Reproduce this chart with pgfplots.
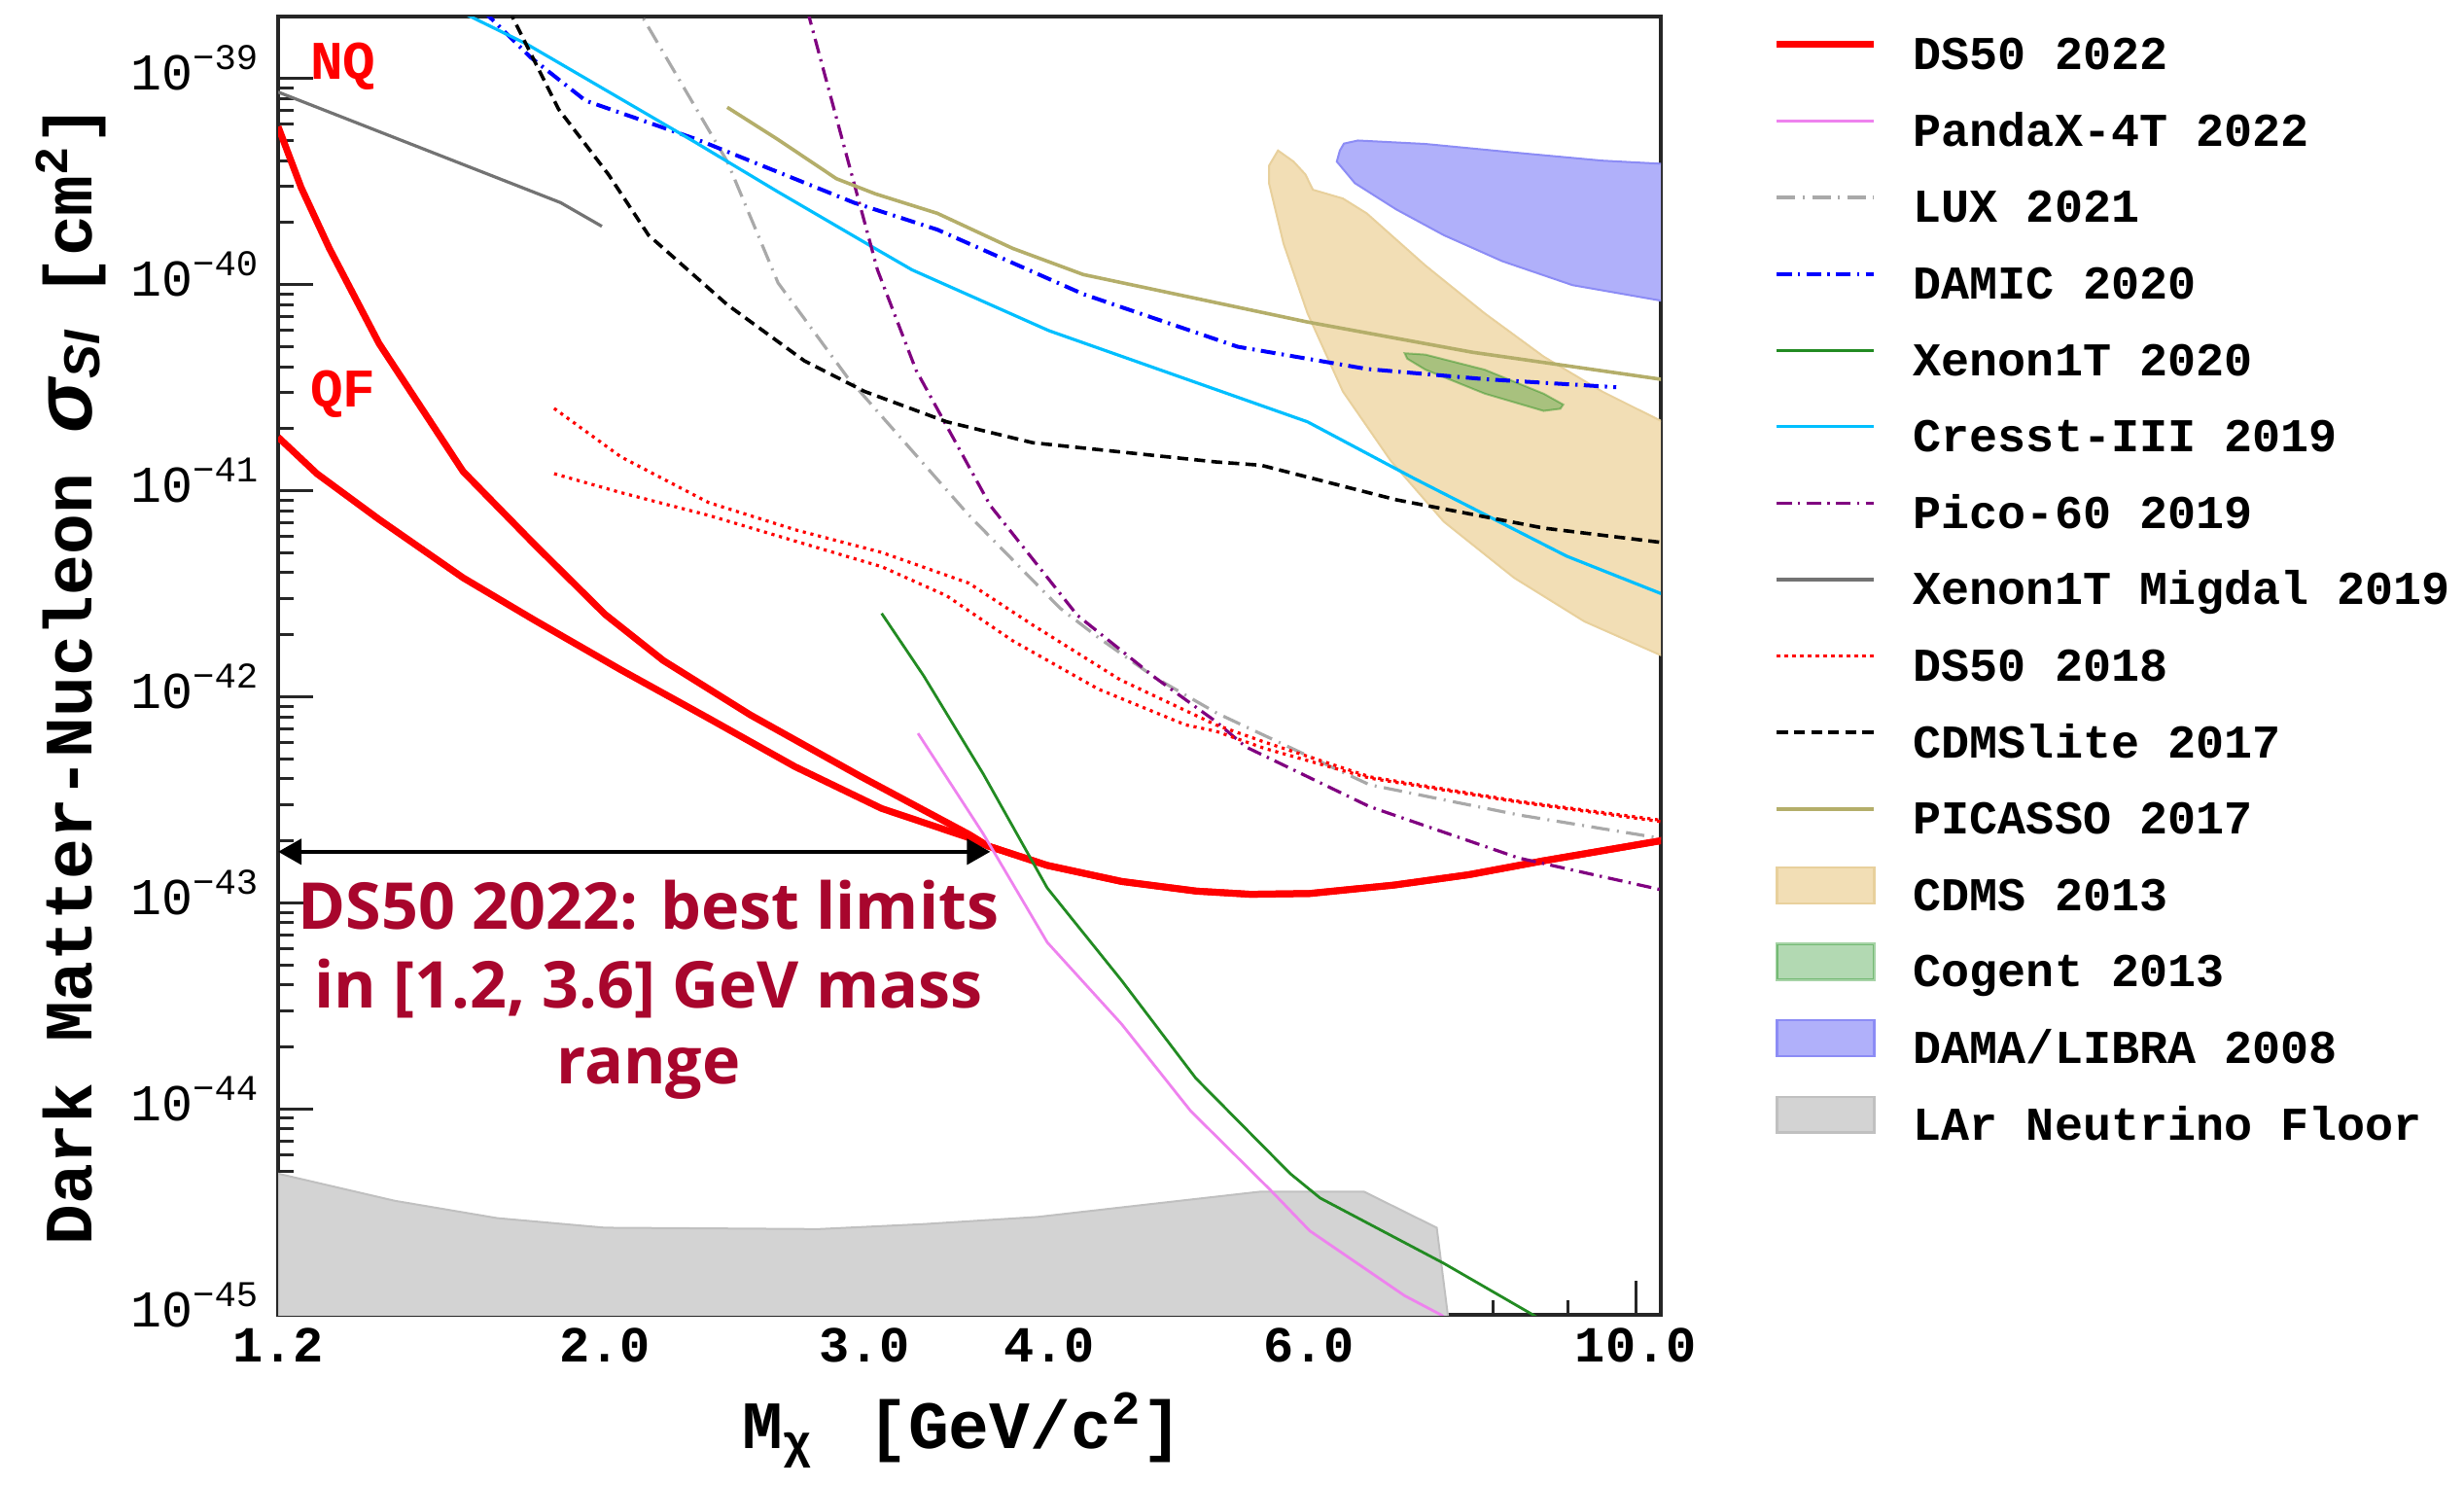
\documentclass[border=0pt]{standalone}
\usepackage{fontspec}
\setmainfont{Liberation Serif}
\setsansfont{Liberation Sans}
\setmonofont{Liberation Mono}
\newfontfamily\annotfont{Open Sans}
\usepackage{amsmath}
\usepackage{pgfplots}
\pgfplotsset{compat=1.18}
\usetikzlibrary{arrows.meta}
\definecolor{dsred}{RGB}{168,6,45}
\definecolor{cdmsfill}{RGB}{242,222,181}
\definecolor{cdmsedge}{RGB}{232,208,156}
\definecolor{damafill}{RGB}{176,176,250}
\definecolor{damaedge}{RGB}{140,140,245}
\definecolor{cogfill}{RGB}{0,128,0}
\definecolor{floorfill}{RGB}{211,211,211}
\definecolor{flooredge}{RGB}{192,192,192}
\definecolor{pandax}{RGB}{238,130,238}
\definecolor{luxgray}{RGB}{169,169,169}
\definecolor{xegreen}{RGB}{34,139,34}
\definecolor{cresst}{RGB}{0,191,255}
\definecolor{pico}{RGB}{128,0,128}
\definecolor{migdal}{RGB}{115,115,115}
\definecolor{picasso}{RGB}{180,174,106}
\pgfplotsset{
  mylegline/.style={legend image code/.code={\draw[##1] (0pt,3.5pt) -- (25pt,3.5pt);}},
  mylegarea/.style={legend image code/.code={\draw[##1, overlay] (0pt,-1.1pt) rectangle (25pt,8.1pt); \path[draw=none, fill=none] (0pt,3.5pt) -- (25pt,3.5pt);}},
}
\begin{document}
\begin{tikzpicture}
\path[use as bounding box] (-71.5pt,-43.75pt) rectangle (562pt,338pt);
\begin{axis}[
  xmode=log, ymode=log,
  scale only axis, width=355.5pt, height=333.75pt,
  xmin=1.2, xmax=10.4, ymin=1e-45, ymax=2e-39,
  xtick={1.2,2,3,4,6,10},
  xticklabels={1.2,2.0,3.0,4.0,6.0,10.0},
  minor xtick={5,7,8,9},
  ytick={1e-45,1e-44,1e-43,1e-42,1e-41,1e-40,1e-39},
  yticklabels={10\textsuperscript{−45},10\textsuperscript{−44},10\textsuperscript{−43},10\textsuperscript{−42},10\textsuperscript{−41},10\textsuperscript{−40},10\textsuperscript{−39}},
  minor ytick={2e-45,3e-45,4e-45,5e-45,6e-45,7e-45,8e-45,9e-45,
               2e-44,3e-44,4e-44,5e-44,6e-44,7e-44,8e-44,9e-44,
               2e-43,3e-43,4e-43,5e-43,6e-43,7e-43,8e-43,9e-43,
               2e-42,3e-42,4e-42,5e-42,6e-42,7e-42,8e-42,9e-42,
               2e-41,3e-41,4e-41,5e-41,6e-41,7e-41,8e-41,9e-41,
               2e-40,3e-40,4e-40,5e-40,6e-40,7e-40,8e-40,9e-40},
  tick pos=left,
  tick align=inside,
  major tick length=8.9pt, minor tick length=3.9pt,
  axis line style={line width=1pt, black!85},
  every tick/.style={line width=0.75pt, black!85},
  xticklabel style={font=\ttfamily\bfseries\fontsize{13}{15}\selectfont, anchor=base, inner sep=0pt, yshift=-12.2pt},
  yticklabel style={font=\ttfamily\fontsize{13.3}{15}\selectfont, anchor=base east, inner sep=0pt, xshift=-4.5pt, yshift=-3.0pt},
  xlabel={M\textsubscript{χ}\hspace{0.8em}[GeV/c\textsuperscript{2}]},
  xlabel style={font=\ttfamily\bfseries\fontsize{17.4}{20}\selectfont, at={(rel axis cs:0.495,0)}, anchor=base, yshift=-34.25pt},
  ylabel={Dark Matter-Nucleon {\sffamily\bfseries\itshape\fontsize{21}{21}\selectfont σ}\raisebox{-2.1pt}{\sffamily\bfseries\itshape\fontsize{13}{13}\selectfont SI}\hspace{0.5em}[cm\textsuperscript{2}]},
  ylabel style={font=\ttfamily\bfseries\fontsize{17.4}{20}\selectfont, at={([xshift=-47.9pt]rel axis cs:0,0.043)}, anchor=base west},
  clip mode=individual,
  mylegline,
  legend cell align=left,
  legend style={draw=none, fill=none, at={(rel axis cs:1,1)}, anchor=north west, xshift=28.75pt, yshift=-5.45pt,
    inner sep=0pt, row sep=9.65pt, font=\ttfamily\bfseries\fontsize{12.1}{14}\selectfont,
    nodes={inner sep=0pt, text height=8pt, text depth=2pt},
    /tikz/every odd column/.append style={column sep=9.25pt}},
]
% ---------------- filled regions (drawn first) ----------------
\addplot[forget plot, fill=cdmsfill, draw=cdmsedge, line width=0.5pt] coordinates {
(5.72,4.48e-40) (5.64,3.78e-40) (5.64,3.11e-40) (5.77,1.58e-40) (5.99,7.26e-41) (6.33,3.03e-41)
(6.82,1.40e-41) (7.41,7.08e-42) (8.27,3.78e-42) (9.23,2.32e-42) (10.36,1.61e-42) (10.6,1.51e-42)
(10.6,2.04e-41) (9.49,3.03e-41) (8.66,4.48e-41) (7.9,7.26e-41) (7.2,1.24e-40) (6.57,2.22e-40)
(6.33,2.62e-40) (6.04,2.89e-40) (5.97,3.43e-40) (5.86,3.96e-40)} -- cycle;
\addplot[forget plot, fill=cogfill, fill opacity=0.3, draw=cogfill, draw opacity=0.35, line width=0.5pt] coordinates {
(6.97,4.65e-41) (7.2,4.58e-41) (7.9,3.87e-41) (8.66,2.96e-41) (8.93,2.62e-41) (8.89,2.50e-41)
(8.66,2.44e-41) (7.9,2.96e-41) (7.2,3.87e-41) (7.0,4.37e-41)} -- cycle;
\addplot[forget plot, fill=damafill, draw=damaedge, line width=0.5pt] coordinates {
(6.48,5.01e-40) (6.34,4.84e-40) (6.30,4.48e-40) (6.27,3.96e-40) (6.45,3.11e-40) (6.88,2.32e-40)
(7.41,1.74e-40) (8.12,1.30e-40) (9.06,9.95e-41) (10.36,8.41e-41) (10.6,8.13e-41)
(10.6,3.85e-40) (10.36,3.87e-40) (9.49,4.00e-40) (8.27,4.38e-40) (7.2,4.82e-40)} -- cycle;
\addplot[forget plot, fill=floorfill, draw=flooredge, line width=0.5pt] coordinates {
(1.2,5e-46) (1.2,4.85e-45) (1.44,3.58e-45) (1.69,2.95e-45) (2.0,2.65e-45) (2.79,2.61e-45)
(3.29,2.76e-45) (3.93,2.99e-45) (5.57,3.97e-45) (6.54,3.97e-45) (7.33,2.65e-45) (7.55,5e-46)} -- cycle;
% ---------------- limit curves ----------------
% DS50 2022 (NQ)
\addplot[red, line width=1.75pt] coordinates {
(1.2,5.85e-40) (1.244,2.96e-40) (1.30,1.50e-40) (1.405,5.18e-41) (1.602,1.24e-41) (1.79,5.51e-42)
(2.0,2.51e-42) (2.19,1.50e-42) (2.51,8.15e-43) (2.98,4.11e-43) (3.53,2.15e-43) (3.635,1.89e-43)
(3.99,1.52e-43) (4.48,1.27e-43) (5.035,1.14e-43) (5.48,1.10e-43) (6.01,1.11e-43) (6.86,1.22e-43)
(7.71,1.37e-43) (8.66,1.60e-43) (10.39,2.00e-43) (10.6,2.09e-43)};
\addlegendentry{DS50 2022}
% DS50 2022 (QF)
\addplot[forget plot, red, line width=1.75pt] coordinates {
(1.2,1.82e-41) (1.275,1.21e-41) (1.405,7.26e-42) (1.602,3.78e-42) (1.79,2.36e-42) (2.05,1.35e-42)
(2.35,7.87e-43) (2.69,4.58e-43) (3.08,2.87e-43) (3.53,2.07e-43) (3.635,1.89e-43)
(3.99,1.52e-43) (4.48,1.27e-43) (5.035,1.14e-43) (5.48,1.10e-43) (6.01,1.11e-43) (6.86,1.22e-43)
(7.71,1.37e-43) (8.66,1.60e-43) (10.39,2.00e-43) (10.6,2.09e-43)};
% PandaX-4T 2022
\addplot[pandax, line width=0.7pt] coordinates {
(3.26,6.65e-43) (3.61,2.16e-43) (3.99,6.43e-44) (4.48,2.58e-44) (4.99,9.77e-45) (5.65,4.05e-45)
(6.01,2.56e-45) (6.97,1.24e-45) (7.38,1.0e-45) (7.6,8.5e-46)};
\addlegendentry{PandaX-4T 2022}
% LUX 2021
\addplot[luxgray, line width=0.8pt, dash pattern=on 4.75pt off 1.9pt on 0.5pt off 1.9pt] coordinates {
(2.08,2.51e-39) (2.42,3.96e-40) (2.62,1.02e-40) (2.92,3.55e-41) (3.53,7.60e-42) (4.07,2.69e-42)
(4.32,1.94e-42) (4.72,1.24e-42) (5.2,8.32e-43) (6.6,3.74e-43) (8.33,2.67e-43) (10.39,2.06e-43) (10.6,2.02e-43)};
\addlegendentry{LUX 2021}
% DAMIC 2020
\addplot[blue, line width=1pt, dash pattern=on 3.8pt off 1.6pt on 0.6pt off 1.6pt] coordinates {
(1.60,2.69e-39) (1.78,1.27e-39) (1.94,7.82e-40) (2.31,5.06e-40) (2.62,3.52e-40) (2.95,2.50e-40)
(3.36,1.85e-40) (4.22,9.0e-41) (5.37,5.0e-41) (6.57,3.9e-41) (7.9,3.48e-41) (9.7,3.18e-41)};
\addlegendentry{DAMIC 2020}
% Xenon1T 2020
\addplot[xegreen, line width=0.7pt] coordinates {
(3.08,2.54e-42) (3.29,1.26e-42) (3.61,4.22e-43) (3.99,1.18e-43) (4.48,4.20e-44) (5.03,1.41e-44)
(5.83,4.85e-45) (6.11,3.69e-45) (7.41,1.78e-45) (8.52,1.0e-45) (8.8,8.7e-46)};
\addlegendentry{Xenon1T 2020}
% Cresst-III 2019
\addplot[cresst, line width=0.8pt] coordinates {
(1.55,2.34e-39) (1.77,1.47e-39) (2.30,4.93e-40) (2.62,2.82e-40) (3.01,1.58e-40) (3.23,1.18e-40)
(4.0,5.98e-41) (5.99,2.16e-41) (7.07,1.15e-41) (8.98,4.81e-42) (10.39,3.18e-42) (10.6,3.05e-42)};
\addlegendentry{Cresst-III 2019}
% Pico-60 2019
\addplot[pico, line width=0.8pt, dash pattern=on 3.8pt off 1.6pt on 0.6pt off 1.6pt] coordinates {
(2.71,2.95e-39) (2.95,3.11e-40) (3.06,1.18e-40) (3.25,3.85e-41) (3.65,8.47e-42) (4.18,2.49e-42)
(4.72,1.24e-42) (5.19,7.59e-43) (5.44,5.71e-43) (6.6,2.93e-43) (8.33,1.65e-43) (10.39,1.16e-43) (10.6,1.13e-43)};
\addlegendentry{Pico-60 2019}
% Xenon1T Migdal 2019
\addplot[migdal, line width=0.8pt] coordinates {
(1.2,8.61e-40) (1.866,2.50e-40) (1.99,1.92e-40)};
\addlegendentry{Xenon1T Migdal 2019}
% DS50 2018 (two curves)
\addplot[red, line width=0.8pt, dash pattern=on 0.8pt off 1.2pt] coordinates {
(1.847,2.51e-41) (2.05,1.46e-41) (2.35,8.77e-42) (2.69,6.47e-42) (3.08,5.02e-42) (3.53,3.56e-42)
(3.9,2.23e-42) (4.47,1.21e-42) (5.19,7.31e-43) (5.6,6.03e-43) (6.6,4.09e-43) (8.33,3.11e-43)
(10.39,2.52e-43) (10.6,2.48e-43)};
\addlegendentry{DS50 2018}
\addplot[forget plot, red, line width=0.8pt, dash pattern=on 0.8pt off 1.2pt] coordinates {
(1.847,1.21e-41) (2.05,9.79e-42) (2.35,7.60e-42) (2.69,5.70e-42) (3.08,4.28e-42) (3.41,3.09e-42)
(3.78,1.87e-42) (4.32,1.09e-42) (4.95,7.31e-43) (5.19,6.81e-43) (5.6,5.62e-43) (6.6,4.03e-43)
(8.33,3.08e-43) (10.39,2.48e-43) (10.6,2.44e-43)};
% CDMSlite 2017
\addplot[black, line width=0.9pt, dash pattern=on 2.8pt off 1.6pt] coordinates {
(1.70,2.57e-39) (1.86,7.10e-40) (2.01,3.43e-40) (2.14,1.74e-40) (2.42,8.00e-41) (2.73,4.27e-41)
(3.0,3.03e-41) (3.41,2.16e-41) (3.9,1.71e-41) (5.19,1.38e-41) (5.57,1.33e-41) (6.88,9.04e-42)
(8.66,6.59e-42) (10.39,5.62e-42) (10.6,5.5e-42)};
\addlegendentry{CDMSlite 2017}
% PICASSO 2017
\addplot[picasso, line width=0.9pt] coordinates {
(2.42,7.26e-40) (2.62,5.06e-40) (2.87,3.27e-40) (3.05,2.76e-40) (3.36,2.22e-40) (3.78,1.50e-40)
(4.22,1.12e-40) (5.99,6.59e-41) (7.75,4.70e-41) (10.39,3.48e-41) (10.6,3.4e-41)};
\addlegendentry{PICASSO 2017}
% legend entries for the regions
\addlegendimage{mylegarea, fill=cdmsfill, draw=cdmsedge, line width=0.6pt}
\addlegendentry{CDMS 2013}
\addlegendimage{mylegarea, fill=cogfill, fill opacity=0.3, draw=cogfill, draw opacity=0.35, line width=0.6pt}
\addlegendentry{Cogent 2013}
\addlegendimage{mylegarea, fill=damafill, draw=damaedge, line width=0.6pt}
\addlegendentry{DAMA/LIBRA 2008}
\addlegendimage{mylegarea, fill=floorfill, draw=flooredge, line width=0.6pt}
\addlegendentry{LAr Neutrino Floor}
% ---------------- annotations ----------------
\node[text=red, font=\ttfamily\bfseries\fontsize{14}{16}\selectfont, anchor=center] at (axis cs:1.328,1.15e-39) {NQ};
\node[text=red, font=\ttfamily\bfseries\fontsize{14}{16}\selectfont, anchor=center] at (axis cs:1.328,2.93e-41) {QF};
\draw[black, line width=1pt, {Triangle[length=6pt,width=6.5pt]}-{Triangle[length=6pt,width=6.5pt]}]
  (axis cs:1.2,1.77e-43) -- (axis cs:3.65,1.77e-43);
\node[text=dsred, font=\annotfont\bfseries\fontsize{16.6}{19}\selectfont, anchor=base] at (axis cs:2.14,7.48e-44) {DS50 2022: best limits};
\node[text=dsred, font=\annotfont\bfseries\fontsize{16.6}{19}\selectfont, anchor=base] at (axis cs:2.14,3.10e-44) {in [1.2, 3.6] GeV mass};
\node[text=dsred, font=\annotfont\bfseries\fontsize{16.6}{19}\selectfont, anchor=base] at (axis cs:2.14,1.32e-44) {range};
\end{axis}
\end{tikzpicture}
\end{document}
